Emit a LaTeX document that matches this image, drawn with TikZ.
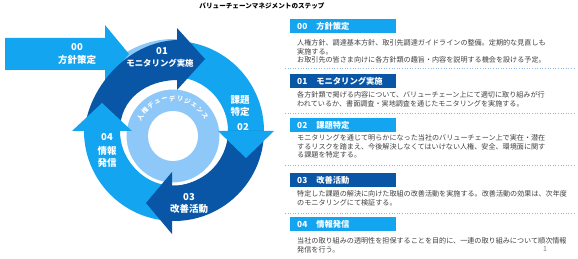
\documentclass[tikz,border=0pt]{standalone}
\usepackage{fontspec}
\setmainfont{Noto Sans CJK JP}
\usetikzlibrary{calc}
\definecolor{midb}{HTML}{14A5F0}
\definecolor{darkb}{HTML}{0A56A6}
\definecolor{lightb}{HTML}{8DC8F8}
\definecolor{txt}{HTML}{404040}
\definecolor{sepc}{HTML}{8FB5E3}
\begin{document}
\begin{tikzpicture}[x=1pt,y=-1pt,
  lbl/.style={text=white,font=\bfseries\fontsize{9.5}{11}\selectfont,inner sep=0pt},
  lblk/.style={text=white,font=\bfseries\fontsize{8.4}{10}\selectfont,inner sep=0pt},
  ringtxt/.style={text=white,font=\bfseries\fontsize{6.3}{7}\selectfont,inner sep=0pt},
  hbar/.style={anchor=north west,inner xsep=7pt,inner ysep=0pt,minimum height=14pt,text width=92pt,align=left,text=white,font=\bfseries\fontsize{8.3}{10}\selectfont},
  txtline/.style={anchor=base west,inner sep=0pt,text=txt,font=\fontsize{7.1}{8.5}\selectfont},
  sepline/.style={sepc,dotted,line width=0.6pt}]
\useasboundingbox[fill=white] (0,0) rectangle (578,259);

\coordinate (O) at (174,131);
\coordinate (IC) at (173,136);

% title
\node[font=\bfseries\fontsize{6.6}{8}\selectfont,inner sep=0pt] (title) at (262,6) {バリューチェーンマネジメントのステップ};

% light crescent
\fill[lightb] ($(O)+(228:92)$) arc[start angle=228,end angle=272,radius=92]
  -- ($(O)+(272:60)$) arc[start angle=272,end angle=228,radius=60] -- cycle;

% 00 arrow
\fill[midb] (5,38) -- (105,38) -- (105,25) -- (129,54) -- (105,83) -- (105,70) -- (5,70) -- cycle;

% bodies
\fill[midb] ($(O)+(266:90)$) arc[start angle=266,end angle=360,radius=90]
  -- ($(O)+(360:54)$) arc[start angle=360,end angle=266,radius=54] -- cycle;
\fill[midb] ($(O)+(90:90)$) arc[start angle=90,end angle=181,radius=90]
  -- ($(O)+(181:54)$) arc[start angle=181,end angle=90,radius=54] -- cycle;
\fill[darkb] ($(O)+(0:90)$) arc[start angle=0,end angle=92,radius=90]
  -- ($(O)+(92:54)$) arc[start angle=92,end angle=0,radius=54] -- cycle;
\fill[darkb] (85,130) .. controls (87,92) and (125,41) .. (178,40)
  -- (178,80) .. controls (145,80) and (120,100) .. (120,130) -- cycle;

% inner ring
\filldraw[fill=lightb,draw=white,line width=3pt] (IC) circle[radius=48];
\fill[white] (IC) circle[radius=25];

% heads
\fill[darkb] (177,28) -- (205,59) -- (177,90) -- cycle;
\fill[midb] (218,131) -- (274,131) -- (246,158) -- cycle;
\fill[darkb] (172,172) -- (172,234) -- (146,203) -- cycle;
\fill[midb] (72,131) -- (132,131) -- (102,103) -- cycle;

% ring text
\foreach \c [count=\i] in {人,権,デ,ュ,ー,デ,リ,ジ,ェ,ン,ス}{
  \pgfmathsetmacro\ang{210+(\i-1)*11.8}
  \node[ringtxt,rotate={270-\ang}] (rc\i) at ($(IC)+(\ang:37.5)$) {\c};
}

% labels
\node[lbl] (n00) at (77,47) {00};
\node[lbl] (l00) at (77,60) {方針策定};
\node[lbl] (n01) at (162,51) {01};
\node[lblk] (l01) at (160,63) {モニタリング実施};
\node[lbl] (l02a) at (240,100) {課題};
\node[lbl] (l02b) at (240,112) {特定};
\node[lbl] (n02) at (243,127) {02};
\node[lbl] (n03) at (189,197) {03};
\node[lbl] (l03) at (189,209) {改善活動};
\node[lbl] (n04) at (107,137) {04};
\node[lbl] (l04a) at (107,151) {情報};
\node[lbl] (l04b) at (107,163) {発信};

% right panel
\node[hbar,fill=midb] (b0) at (290,19) {00\hspace{9pt}方針策定};
\node[txtline] (t0a) at (297,45.6) {人権方針、調達基本方針、取引先調達ガイドラインの整備。定期的な見直しも};
\node[txtline] (t0b) at (297,54.1) {実施する。};
\node[txtline] (t0c) at (297,62.6) {お取引先の皆さま向けに各方針類の趣旨・内容を説明する機会を設ける予定。};
\draw[sepline] (285,68) -- (575,68);

\node[hbar,fill=darkb] (b1) at (290,74) {01\hspace{9pt}モニタリング実施};
\node[txtline] (t1a) at (297,97.6) {各方針類で掲げる内容について、バリューチェーン上にて適切に取り組みが行};
\node[txtline] (t1b) at (297,106.6) {われているか、書面調査・実地調査を通じたモニタリングを実施する。};
\draw[sepline] (285,113) -- (575,113);

\node[hbar,fill=midb] (b2) at (290,118) {02\hspace{9pt}課題特定};
\node[txtline] (t2a) at (297,140.6) {モニタリングを通じて明らかになった当社のバリューチェーン上で実在・潜在};
\node[txtline] (t2b) at (297,149.1) {するリスクを踏まえ、今後解決しなくてはいけない人権、安全、環境面に関す};
\node[txtline] (t2c) at (297,157.6) {る課題を特定する。};
\draw[sepline] (285,165) -- (575,165);

\node[hbar,fill=darkb] (b3) at (290,173) {03\hspace{9pt}改善活動};
\node[txtline] (t3a) at (297,196.8) {特定した課題の解決に向けた取組の改善活動を実施する。改善活動の効果は、次年度};
\node[txtline] (t3b) at (297,205.8) {のモニタリングにて検証する。};
\draw[sepline] (285,213) -- (575,213);

\node[hbar,fill=midb] (b4) at (290,217) {04\hspace{9pt}情報発信};
\node[txtline] (t4a) at (297,243.6) {当社の取り組みの透明性を担保することを目的に、一連の取り組みについて順次情報};
\node[txtline] (t4b) at (297,252.1) {発信を行う。};
\node[font=\fontsize{7}{8}\selectfont,text=gray,inner sep=0pt] (pg) at (545,249) {1};
\end{tikzpicture}
\end{document}
